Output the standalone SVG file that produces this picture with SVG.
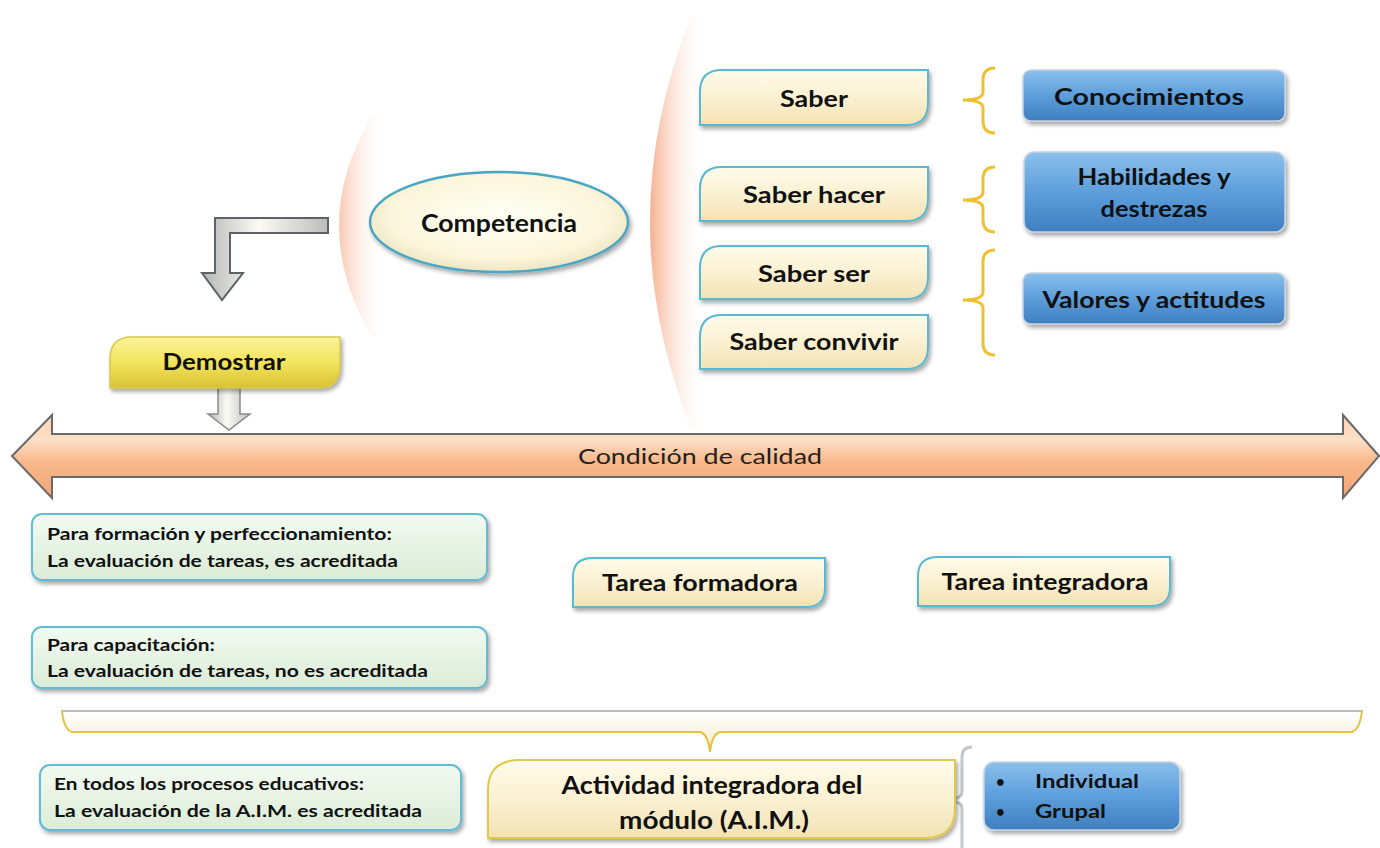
<svg xmlns="http://www.w3.org/2000/svg" width="1380" height="848" viewBox="0 0 1380 848">
<defs>
<linearGradient id="cream" x1="0" y1="0" x2="0" y2="1"><stop offset="0" stop-color="#fffbeb"/><stop offset="0.5" stop-color="#fbf1d2"/><stop offset="1" stop-color="#f2e2b4"/></linearGradient>
<linearGradient id="yellow" x1="0" y1="0" x2="0" y2="1"><stop offset="0" stop-color="#fbf39a"/><stop offset="0.5" stop-color="#f3e45c"/><stop offset="1" stop-color="#d8c233"/></linearGradient>
<linearGradient id="blue" x1="0" y1="0" x2="0" y2="1"><stop offset="0" stop-color="#8cc0ec"/><stop offset="0.5" stop-color="#5d9edb"/><stop offset="1" stop-color="#3f7fc0"/></linearGradient>
<linearGradient id="green" x1="0" y1="0" x2="0" y2="1"><stop offset="0" stop-color="#f2faf0"/><stop offset="1" stop-color="#dcecd8"/></linearGradient>
<linearGradient id="peachArrow" x1="0" y1="0" x2="0" y2="1"><stop offset="0" stop-color="#fcd2b2"/><stop offset="0.3" stop-color="#fde0c8"/><stop offset="0.55" stop-color="#f9b98c"/><stop offset="1" stop-color="#f2a676"/></linearGradient>
<linearGradient id="grayArrowV" x1="0" y1="0" x2="1" y2="0"><stop offset="0" stop-color="#b4b4b4"/><stop offset="0.45" stop-color="#fbfbf4"/><stop offset="1" stop-color="#bcbcbc"/></linearGradient>
<linearGradient id="crescL" gradientUnits="userSpaceOnUse" x1="330" y1="0" x2="385" y2="0"><stop offset="0" stop-color="#f4a885" stop-opacity="0.9"/><stop offset="1" stop-color="#ffffff" stop-opacity="0"/></linearGradient>
<linearGradient id="crescR" gradientUnits="userSpaceOnUse" x1="650" y1="0" x2="705" y2="0"><stop offset="0" stop-color="#f4a885" stop-opacity="0.9"/><stop offset="1" stop-color="#ffffff" stop-opacity="0"/></linearGradient>
<linearGradient id="hbrace" x1="0" y1="0" x2="0" y2="1"><stop offset="0" stop-color="#ffffff"/><stop offset="1" stop-color="#f6ecc8"/></linearGradient>
<radialGradient id="ellip" cx="0.5" cy="0.45" r="0.6"><stop offset="0" stop-color="#fffff4"/><stop offset="0.7" stop-color="#fbf6dc"/><stop offset="1" stop-color="#e8dfb8"/></radialGradient>
<filter id="sh" x="-10%" y="-20%" width="120%" height="150%"><feDropShadow dx="2" dy="3" stdDeviation="2" flood-color="#000" flood-opacity="0.35"/></filter>
</defs>
<style>
.t{font-family:Lato,"Open Sans","Liberation Sans",sans-serif;font-weight:bold;fill:#111;text-anchor:middle}
.s{font-family:Lato,"Open Sans","Liberation Sans",sans-serif;font-weight:bold;fill:#111}
.cr{fill:url(#cream);stroke:#5ab9d2;stroke-width:2;filter:url(#sh)}
.bl{fill:url(#blue);stroke:#c8d4e0;stroke-width:1.5;filter:url(#sh)}
.gr{fill:url(#green);stroke:#62bcd6;stroke-width:2;filter:url(#sh)}
.yb{fill:none;stroke:#f0c030;stroke-width:3}
</style>
<rect width="1380" height="848" fill="#ffffff"/>

<g id="crescents">
<path d="M372,116 Q306,226 372,336 L395,336 L395,116 Z" fill="url(#crescL)"/>
<path d="M692,14 Q608,222 692,430 L715,430 L715,14 Z" fill="url(#crescR)"/>
</g>

<g id="connectors">
<path d="M328,218 L215,218 L215,273 L202,273 L222,300 L243,273 L230,273 L230,233 L328,233 Z" fill="url(#grayArrowV)" stroke="#5c6268" stroke-width="2"/>
<path d="M218,388 L240,388 L240,414 L250,414 L229,430 L208,414 L218,414 Z" fill="url(#grayArrowV)" stroke="#8a8a8a" stroke-width="1.5"/>
<path d="M995,68 Q983,68 983,80 L983,92 Q983,100 963,100 Q983,100 983,108 L983,121 Q983,133 995,133" class="yb"/>
<path d="M995,167 Q983,167 983,179 L983,192 Q983,200 963,200 Q983,200 983,208 L983,220 Q983,232 995,232" class="yb"/>
<path d="M995,250 Q983,250 983,262 L983,292 Q983,300 963,300 Q983,300 983,308 L983,343 Q983,355 995,355" class="yb"/>
<path d="M972,747 Q962,747 962,757 L962,792 Q962,800 940,800 Q962,800 962,808 L962,848" fill="none" stroke="#c4c8cc" stroke-width="3"/>
<path d="M62,711 L1362,711 Q1360,729 1352,732 L720,732 Q712,734 710,752 Q708,734 700,732 L72,732 Q64,730 62,711 Z" fill="url(#hbrace)" stroke="#e8c040" stroke-width="2"/>
<line x1="62" y1="711" x2="1362" y2="711" stroke="#bcbcbc" stroke-width="2"/>
</g>

<g id="calidad">
<path d="M12,456 L52,415 L52,434 L1343,434 L1343,415 L1379,456 L1343,498 L1343,477 L52,477 L52,498 Z" fill="url(#peachArrow)" stroke="#6a6a6a" stroke-width="2"/>
<text x="700" y="464" font-family="Lato,'Open Sans','Liberation Sans',sans-serif" font-size="22" fill="#222" text-anchor="middle" textLength="244" lengthAdjust="spacingAndGlyphs">Condición de calidad</text>
</g>

<g id="competencia">
<ellipse cx="499" cy="222" rx="129" ry="50" fill="url(#ellip)" stroke="#4aa6c4" stroke-width="2.5" filter="url(#sh)"/>
<text x="499" y="232" class="t" font-size="25" textLength="156" lengthAdjust="spacingAndGlyphs">Competencia</text>
</g>

<g id="demostrar">
<path d="M132,337 L340,337 L340,366 Q340,388 318,388 L110,388 L110,359 Q110,337 132,337 Z" fill="url(#yellow)" stroke="#d8c84a" stroke-width="1.5" filter="url(#sh)"/>
<text x="224" y="370" class="t" font-size="23" textLength="123" lengthAdjust="spacingAndGlyphs">Demostrar</text>
</g>

<g id="saber">
<path d="M722,70 L928,70 L928,103 Q928,125 906,125 L700,125 L700,92 Q700,70 722,70 Z" class="cr"/>
<text x="814" y="107" class="t" font-size="23" textLength="68" lengthAdjust="spacingAndGlyphs">Saber</text>
</g>
<g id="saber-hacer">
<path d="M722,167 L928,167 L928,199 Q928,221 906,221 L700,221 L700,189 Q700,167 722,167 Z" class="cr"/>
<text x="814" y="203" class="t" font-size="23" textLength="142" lengthAdjust="spacingAndGlyphs">Saber hacer</text>
</g>
<g id="saber-ser">
<path d="M722,246 L928,246 L928,277 Q928,299 906,299 L700,299 L700,268 Q700,246 722,246 Z" class="cr"/>
<text x="814" y="282" class="t" font-size="23" textLength="112" lengthAdjust="spacingAndGlyphs">Saber ser</text>
</g>
<g id="saber-convivir">
<path d="M722,315 L928,315 L928,347 Q928,369 906,369 L700,369 L700,337 Q700,315 722,315 Z" class="cr"/>
<text x="814" y="350" class="t" font-size="23" textLength="169" lengthAdjust="spacingAndGlyphs">Saber convivir</text>
</g>

<g id="conocimientos">
<rect x="1023" y="70" width="262" height="51" rx="8" class="bl"/>
<text x="1149" y="105" class="t" font-size="22" textLength="190" lengthAdjust="spacingAndGlyphs">Conocimientos</text>
</g>
<g id="habilidades">
<rect x="1024" y="152" width="261" height="80" rx="10" class="bl"/>
<text x="1154" y="185" class="t" font-size="22" textLength="153" lengthAdjust="spacingAndGlyphs">Habilidades y</text>
<text x="1154" y="217" class="t" font-size="22" textLength="107" lengthAdjust="spacingAndGlyphs">destrezas</text>
</g>
<g id="valores">
<rect x="1023" y="273" width="262" height="51" rx="8" class="bl"/>
<text x="1154" y="308" class="t" font-size="22" textLength="223" lengthAdjust="spacingAndGlyphs">Valores y actitudes</text>
</g>

<g id="formacion">
<rect x="32" y="514" width="455" height="66" rx="10" class="gr"/>
<text x="47" y="540" class="s" font-size="17" textLength="345" lengthAdjust="spacingAndGlyphs">Para formación y perfeccionamiento:</text>
<text x="47" y="567" class="s" font-size="17" textLength="351" lengthAdjust="spacingAndGlyphs">La evaluación de tareas, es acreditada</text>
</g>
<g id="capacitacion">
<rect x="32" y="627" width="455" height="61" rx="10" class="gr"/>
<text x="47" y="651" class="s" font-size="17" textLength="168" lengthAdjust="spacingAndGlyphs">Para capacitación:</text>
<text x="47" y="677" class="s" font-size="17" textLength="381" lengthAdjust="spacingAndGlyphs">La evaluación de tareas, no es acreditada</text>
</g>

<g id="tarea-formadora">
<path d="M593,558 L825,558 L825,588 Q825,607 806,607 L573,607 L573,577 Q573,558 593,558 Z" class="cr"/>
<text x="700" y="591" class="t" font-size="23" textLength="196" lengthAdjust="spacingAndGlyphs">Tarea formadora</text>
</g>
<g id="tarea-integradora">
<path d="M938,557 L1170,557 L1170,587 Q1170,606 1151,606 L918,606 L918,576 Q918,557 938,557 Z" class="cr"/>
<text x="1045" y="590" class="t" font-size="23" textLength="207" lengthAdjust="spacingAndGlyphs">Tarea integradora</text>
</g>

<g id="todos">
<rect x="40" y="765" width="421" height="65" rx="10" class="gr"/>
<text x="54" y="790" class="s" font-size="17" textLength="310" lengthAdjust="spacingAndGlyphs">En todos los procesos educativos:</text>
<text x="54" y="817" class="s" font-size="17" textLength="368" lengthAdjust="spacingAndGlyphs">La evaluación de la A.I.M. es acreditada</text>
</g>

<g id="aim">
<path d="M520,760 L955,760 L955,808 Q955,838 925,838 L488,838 L488,790 Q488,760 520,760 Z" class="cr" style="stroke:#e0c84a"/>
<text x="712" y="794" class="t" font-size="25" textLength="301" lengthAdjust="spacingAndGlyphs">Actividad integradora del</text>
<text x="714" y="829" class="t" font-size="25" textLength="190" lengthAdjust="spacingAndGlyphs">módulo (A.I.M.)</text>
</g>

<g id="modalidad">
<rect x="984" y="762" width="196" height="68" rx="10" class="bl"/>
<text x="996" y="787" class="s" font-size="15">•</text>
<text x="1035" y="788" class="s" font-size="19" textLength="104" lengthAdjust="spacingAndGlyphs">Individual</text>
<text x="996" y="817" class="s" font-size="15">•</text>
<text x="1035" y="818" class="s" font-size="19" textLength="71" lengthAdjust="spacingAndGlyphs">Grupal</text>
</g>
</svg>
